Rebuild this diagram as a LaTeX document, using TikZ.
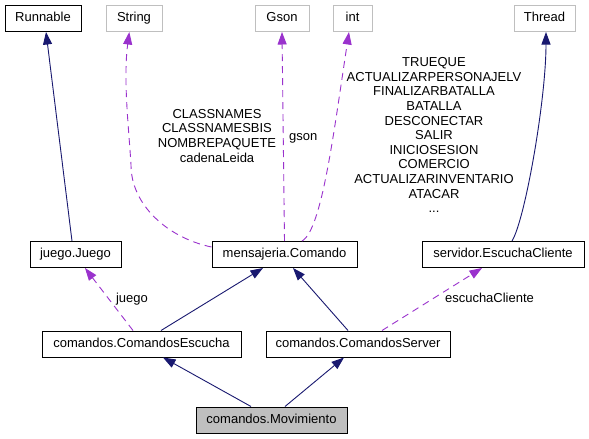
\documentclass[tikz,border=0pt]{standalone}
\usepackage{fontspec}
\setmainfont{Liberation Sans}
\usetikzlibrary{arrows.meta}
\definecolor{navyc}{HTML}{191970}
\definecolor{purc}{HTML}{9A32CD}
\definecolor{grayb}{HTML}{BFBFBF}
\begin{document}
\begin{tikzpicture}[x=1pt,y=-1pt,
 box/.style={draw=black, line width=1pt, minimum height=26pt, inner sep=0pt,
   font=\fontsize{13}{14.6}\selectfont, text height=9.4pt, text depth=2.7pt},
 gbox/.style={box, draw=grayb},
 inh/.style={draw=navyc, line width=0.9pt, -{Triangle[length=12.5pt,width=9pt]}},
 use/.style={draw=purc, line width=0.9pt, dash pattern=on 7pt off 5pt, -{Triangle[length=12.5pt,width=9pt]}},
 lbl/.style={font=\fontsize{13}{14.6}\selectfont, inner sep=0pt, align=center}]
\fill[white] (0,0) rectangle (589,439);
\useasboundingbox (0,0) rectangle (589,439);
% nodes
\node[box, minimum width=76pt] (run) at (43,18.5) {Runnable};
\node[gbox, minimum width=56pt] (str) at (134,18.5) {String};
\node[gbox, minimum width=54pt] (gson) at (282,18.5) {Gson};
\node[gbox, minimum width=39pt] (int) at (352.5,18.5) {int};
\node[gbox, minimum width=61pt] (thr) at (544.5,18.5) {Thread};
\node[box, minimum width=91pt] (jue) at (75.5,254.5) {juego.Juego};
\node[box, minimum width=145pt] (com) at (284.5,254.5) {mensajeria.Comando};
\node[box, minimum width=162pt] (esc) at (503,254.5) {servidor.EscuchaCliente};
\node[box, minimum width=199pt] (ce) at (141.5,344) {comandos.ComandosEscucha};
\node[box, minimum width=184pt] (cs) at (358,344) {comandos.ComandosServer};
\node[box, fill=grayb, minimum width=151pt] (mov) at (271.5,420) {comandos.Movimiento};
% inheritance
\draw[inh] ([xshift=-20.5pt]mov.north) -- ([xshift=21.5pt]ce.south);
\draw[inh] ([xshift=13.5pt]mov.north) -- ([xshift=-14pt]cs.south);
\draw[inh] ([xshift=19.5pt]ce.north) -- ([xshift=-21.5pt]com.south);
\draw[inh] ([xshift=-10pt]cs.north) -- ([xshift=8.5pt]com.south);
\draw[inh] ([xshift=-3.5pt]jue.north) -- ([xshift=3pt]run.south);
\draw[inh] ([xshift=9pt]esc.north) .. controls (525,220) and (546,100) .. ([xshift=1.5pt]thr.south);
% usage
\draw[use] ([xshift=-8.5pt]ce.north) -- ([xshift=9.5pt]jue.south);
\draw[use] ([xshift=24pt]cs.north) -- ([xshift=-21pt]esc.south);
\draw[use] ([yshift=7.5pt]com.west) .. controls (168,238) and (131,205) .. (131,165)
   .. controls (129,130) and (123,80) .. ([xshift=-4.7pt]str.south);
\draw[use] (com.north) -- (gson.south);
\draw[use] ([xshift=17.5pt]com.north) .. controls (322,230) and (334,130) .. ([xshift=-3.5pt]int.south);
% labels
\node[lbl, anchor=base] (ljue) at (132,302.5) {juego};
\node[lbl, anchor=base] (lesc) at (489.5,302.5) {escuchaCliente};
\node[lbl, anchor=base west] (lgson) at (289,140) {gson};
\node[lbl, anchor=base] (lstr) at (217,162.1) {CLASSNAMES\\CLASSNAMESBIS\\NOMBREPAQUETE\\cadenaLeida};
\node[lbl, anchor=base] (lint) at (434,212.7) {TRUEQUE\\ACTUALIZARPERSONAJELV\\FINALIZARBATALLA\\BATALLA\\DESCONECTAR\\SALIR\\INICIOSESION\\COMERCIO\\ACTUALIZARINVENTARIO\\ATACAR\\...};
\end{tikzpicture}
\end{document}
